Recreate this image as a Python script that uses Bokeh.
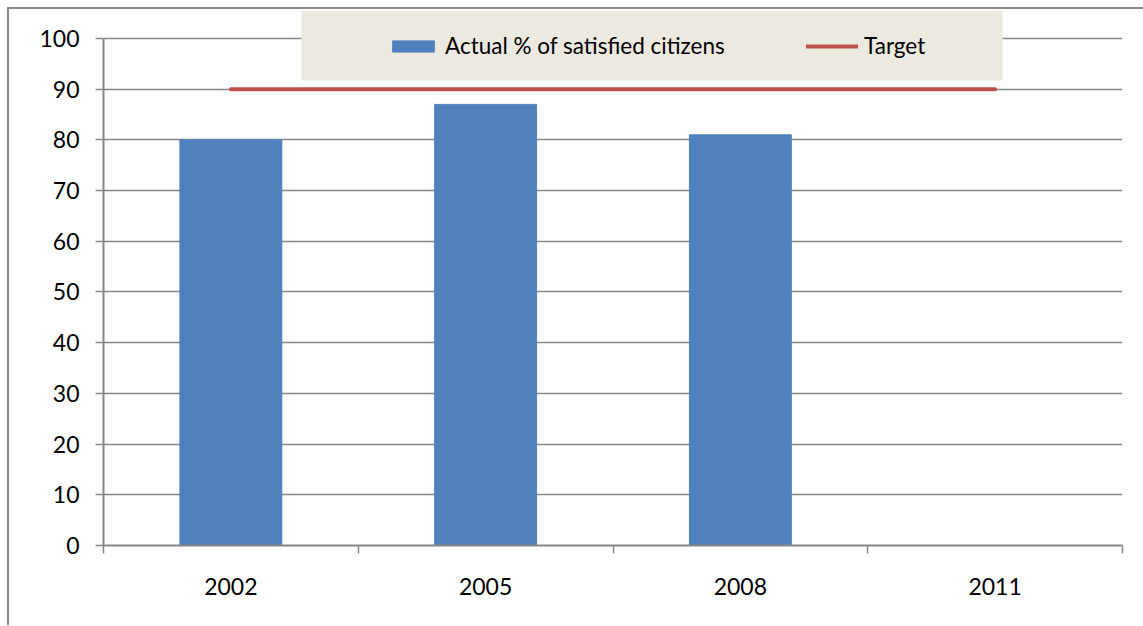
from bokeh.plotting import figure
from bokeh.models import FixedTicker, Range1d, Legend, LegendItem, BoxAnnotation
from bokeh.embed import file_html
from bokeh.resources import INLINE

# Survey results
years = ["2002", "2005", "2008", "2011"]
actual = [80, 87, 81, None]
target = [90, 90, 90, 90]
y_ticks = [0, 10, 20, 30, 40, 50, 60, 70, 80, 90, 100]

FONT = "Lato"
GREY = "#868686"
BLUE = "#4f81bd"
RED = "#c0504d"

pos = list(range(len(years)))
bar_pos = [i for i, v in zip(pos, actual) if v is not None]
bar_val = [v for v in actual if v is not None]

p = figure(width=1143, height=625, output_backend="svg", toolbar_location=None,
           title=None,
           x_range=Range1d(-0.5, len(years) - 0.5), y_range=Range1d(0, 105.52),
           min_border_left=103, min_border_right=21, min_border_top=10,
           min_border_bottom=80)
# grey chart frame (left and top edges) painted behind a transparent canvas border
FRAME_BG = ("linear-gradient(#8a8a8a, #8a8a8a) 7px 7px / 100% 2px no-repeat, "
            "linear-gradient(#8a8a8a, #8a8a8a) 7px 7px / 2px 100% no-repeat, #ffffff")
p.styles = {"background": FRAME_BG}
p.outline_line_color = None
p.background_fill_color = "white"
p.border_fill_color = None

bars = p.vbar(x=bar_pos, top=bar_val, width=0.4, fill_color=BLUE,
              line_color=BLUE, line_width=1)
tline = p.line(x=pos, y=target, line_color=RED, line_width=4, line_cap="round")

# y axis
p.yaxis.ticker = FixedTicker(ticks=y_ticks)
p.yaxis.bounds = (0, 100)
p.yaxis.axis_line_color = GREY
p.yaxis.axis_line_width = 2
p.yaxis.major_tick_line_color = GREY
p.yaxis.major_tick_line_width = 1.5
p.yaxis.major_tick_out = 8
p.yaxis.major_tick_in = 0
p.yaxis.minor_tick_line_color = None
p.yaxis.major_label_standoff = 16
p.yaxis.major_label_text_font = FONT
p.yaxis.major_label_text_font_size = "23px"
p.yaxis.major_label_text_color = "black"

# x axis: labels at category centres, ticks at category boundaries
p.xaxis.ticker = FixedTicker(ticks=pos, minor_ticks=[i - 0.5 for i in range(len(years) + 1)])
p.xaxis.major_label_overrides = {i: y for i, y in zip(pos, years)}
p.xaxis.bounds = (-0.5, len(years) - 0.5)
p.xaxis.axis_line_color = GREY
p.xaxis.axis_line_width = 2
p.xaxis.major_tick_line_color = None
p.xaxis.major_tick_out = 0
p.xaxis.major_tick_in = 0
p.xaxis.minor_tick_line_color = GREY
p.xaxis.minor_tick_line_width = 1.5
p.xaxis.minor_tick_out = 8
p.xaxis.minor_tick_in = 0
p.xaxis.major_label_standoff = 24
p.xaxis.major_label_text_font = FONT
p.xaxis.major_label_text_font_size = "23px"
p.xaxis.major_label_text_color = "black"

p.xgrid.grid_line_color = None
p.ygrid.ticker = FixedTicker(ticks=y_ticks)
p.ygrid.grid_line_color = GREY
p.ygrid.grid_line_width = 1.5

# legend panel
p.add_layout(BoxAnnotation(left=198, right=899, top=535, bottom=465,
                           left_units="screen", right_units="screen",
                           top_units="screen", bottom_units="screen",
                           fill_color="#ece9e0", fill_alpha=1, line_color=None))

legend = Legend(items=[LegendItem(label="Actual % of satisfied citizens", renderers=[bars]),
                       LegendItem(label="Target", renderers=[tline])],
                orientation="horizontal", location=(284, 486),
                padding=0, margin=0, spacing=0, label_standoff=6,
                glyph_width=52, glyph_height=14, label_width=361,
                background_fill_alpha=0, border_line_color=None,
                label_text_font=FONT, label_text_font_size="22.5px",
                label_text_color="black")
p.add_layout(legend)

open("out.html", "w").write(file_html(p, INLINE))
